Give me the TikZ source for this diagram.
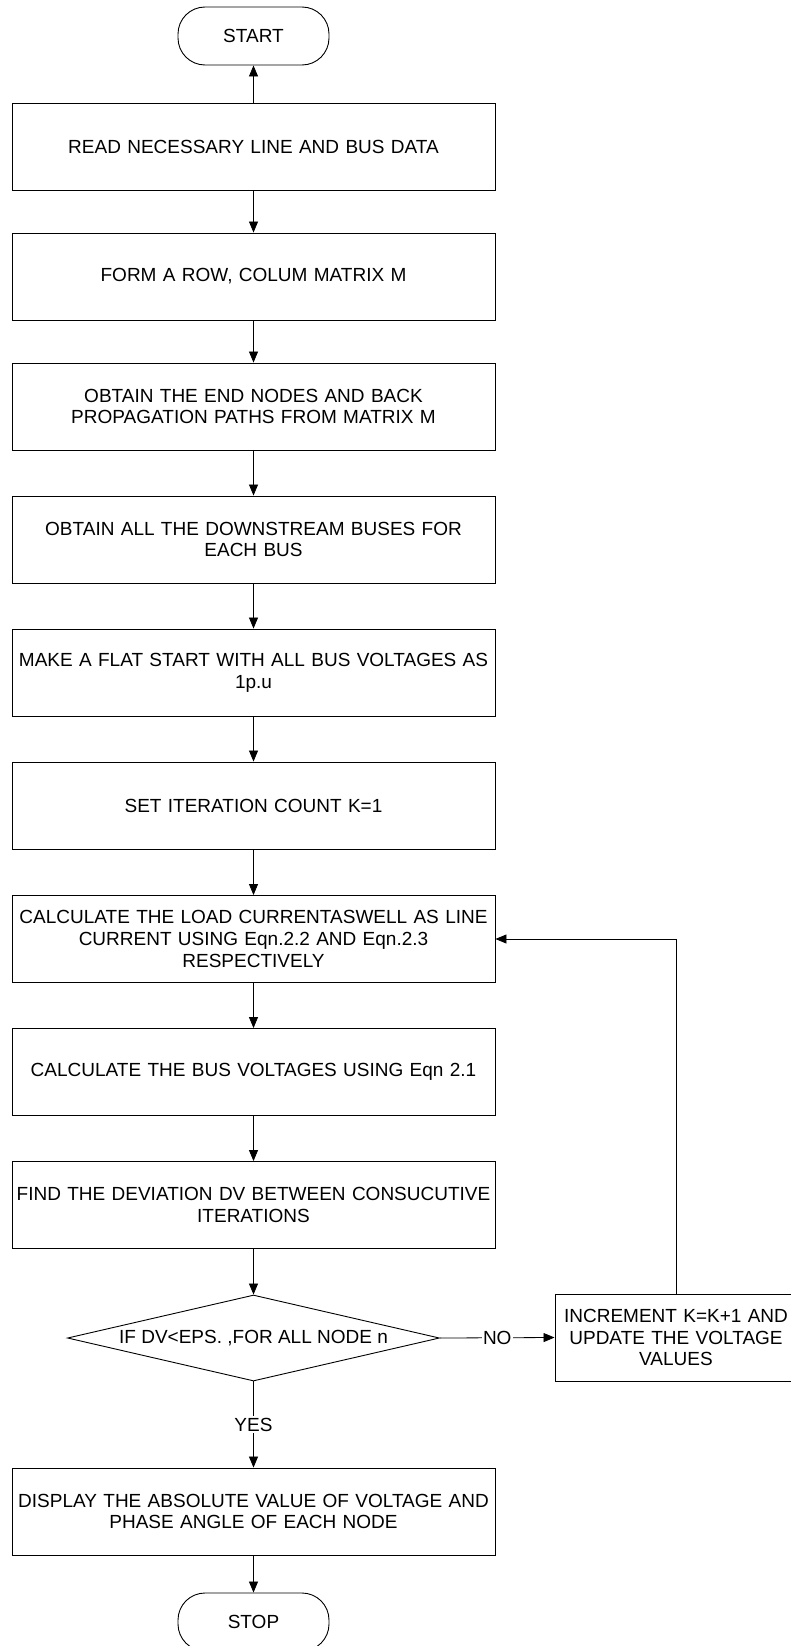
\documentclass[tikz,border=0pt]{standalone}
\usepackage{fontspec}
\setmainfont{Liberation Sans}
\usetikzlibrary{arrows.meta,shapes.geometric}
\begin{document}
\begin{tikzpicture}[x=1pt,y=-1pt,
  font=\fontsize{19}{21.8}\selectfont,
  proc/.style={draw, line width=0.9pt, minimum width=483pt, minimum height=87pt, inner sep=0pt, align=center, text width=480pt},
  side/.style={draw, line width=0.9pt, minimum width=242pt, minimum height=87pt, inner sep=0pt, align=center, text width=238pt},
  term/.style={draw, line width=0.9pt, rounded corners=27pt, minimum width=151pt, minimum height=58pt, inner sep=0pt},
  dec/.style={draw, diamond, aspect=4.33, line width=0.9pt, minimum width=372pt, minimum height=86pt, inner sep=0pt},
  arr/.style={-{Triangle[length=11pt,width=9pt]}, line width=0.8pt},
  lab/.style={fill=white, inner sep=1.5pt}]
\useasboundingbox (0,0) rectangle (791,1646);
\node[term] (start) at (253.5,36) {START};
\node[proc] (b1) at (253.5,146.5) {READ NECESSARY LINE AND BUS DATA};
\node[proc] (b2) at (253.5,276.5) {FORM A ROW, COLUM MATRIX M};
\node[proc] (b3) at (253.5,406.5) {OBTAIN THE END NODES AND BACK\\PROPAGATION PATHS FROM MATRIX M};
\node[proc] (b4) at (253.5,539.5) {OBTAIN ALL THE DOWNSTREAM BUSES FOR\\EACH BUS};
\node[proc] (b5) at (253.5,672.5) {MAKE A FLAT START WITH ALL BUS VOLTAGES AS\\1p.u};
\node[proc] (b6) at (253.5,805.5) {SET ITERATION COUNT K=1};
\node[proc] (b7) at (253.5,939) {CALCULATE THE LOAD CURRENTASWELL AS LINE\\CURRENT USING Eqn.2.2 AND Eqn.2.3\\RESPECTIVELY};
\node[proc] (b8) at (253.5,1072) {CALCULATE THE BUS VOLTAGES USING Eqn 2.1};
\node[proc] (b9) at (253.5,1205) {FIND THE DEVIATION DV BETWEEN CONSUCUTIVE\\ITERATIONS};
\node[dec] (d) at (253.5,1338) {IF DV<EPS. ,FOR ALL NODE n};
\node[side] (inc) at (676,1337.5) {INCREMENT K=K+1 AND\\UPDATE THE VOLTAGE\\VALUES};
\node[proc] (disp) at (253.5,1511.5) {DISPLAY THE ABSOLUTE VALUE OF VOLTAGE AND\\PHASE ANGLE OF EACH NODE};
\node[term] (stop) at (253.5,1622) {STOP};
\draw[arr] (b1) -- (start);
\draw[arr] (b1) -- (b2);
\draw[arr] (b2) -- (b3);
\draw[arr] (b3) -- (b4);
\draw[arr] (b4) -- (b5);
\draw[arr] (b5) -- (b6);
\draw[arr] (b6) -- (b7);
\draw[arr] (b7) -- (b8);
\draw[arr] (b8) -- (b9);
\draw[arr] (b9) -- (d);
\draw[arr] (d.east) -- node[lab] {NO} (inc.west);
\draw[arr] (d.south) -- node[lab] {YES} (disp.north);
\draw[arr] (inc.north) |- (b7.east);
\draw[arr] (disp) -- (stop);
\end{tikzpicture}
\end{document}
